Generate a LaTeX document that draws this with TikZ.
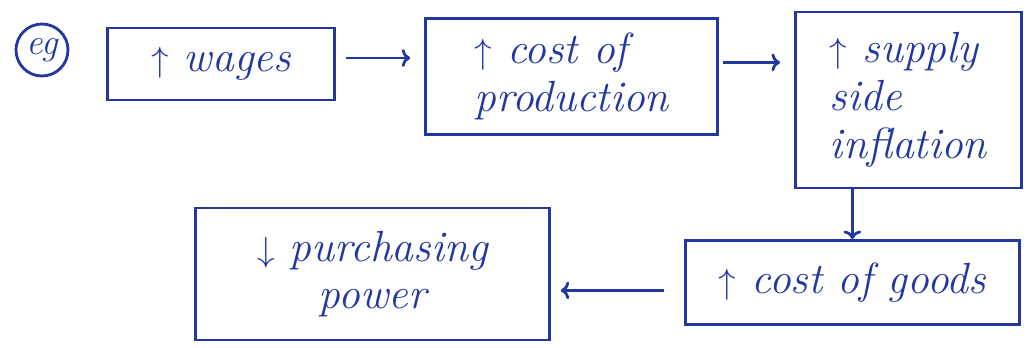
\documentclass[tikz,border=0pt]{standalone}
\usepackage{amsmath, amssymb}
\usepackage{xcolor}
\usepackage{tikz}
\usetikzlibrary{positioning, arrows.meta, calc}

\definecolor{inkblue}{RGB}{35,55,160}

\begin{document}
\begin{tikzpicture}[auto, color=inkblue, line width=2pt,
    every node/.style={font=\fontsize{31}{34}\selectfont\itshape, text=inkblue},
    box/.style={rectangle, draw, align=left, inner sep=4pt}]
    \useasboundingbox (0,0) rectangle (25.675,-8.675);
    \node (eg) [circle, draw, minimum size=1.3cm, inner sep=0pt, font=\fontsize{26}{28}\selectfont\itshape] at (1.05,-1.25) {eg};
    \node (wages) [box, right of=eg, node distance=4.475cm, yshift=-0.35cm, minimum width=5.675cm, minimum height=1.8cm] {$\uparrow$ wages};
    \node (production) [box, right of=wages, node distance=8.765cm, yshift=-0.31cm, minimum width=7.3cm, minimum height=2.9cm] {$\uparrow$ cost of\\production};
    \node (supply) [box, right of=production, node distance=8.42cm, yshift=-0.59cm, minimum width=5.65cm, minimum height=4.4cm] {$\uparrow$ supply\\side\\inflation};
    \node (goods) [box, below of=supply, node distance=4.56cm, xshift=-1.4cm, minimum width=8.35cm, minimum height=2.1cm] {$\uparrow$ cost of goods};
    \node (power) [box, left of=goods, node distance=12cm, yshift=0.21cm, minimum width=8.85cm, minimum height=3.3cm, align=center] {$\downarrow$ purchasing\\power};

    \draw[->] ($(wages.east)+(0.25,0.15)$) -- ($(production.west |- wages.east)+(-0.35,0.15)$);
    \draw[->] ($(production.east)+(0.1,0.35)$) -- ($(supply.west |- production.east)+(-0.35,0.35)$);
    \draw[->] (supply.south -| goods.north) -- (goods.north);
    \draw[->] ($(goods.west)+(-0.5,-0.2)$) -- ($(power.east |- goods.west)+(0.25,-0.2)$);
\end{tikzpicture}
\end{document}
